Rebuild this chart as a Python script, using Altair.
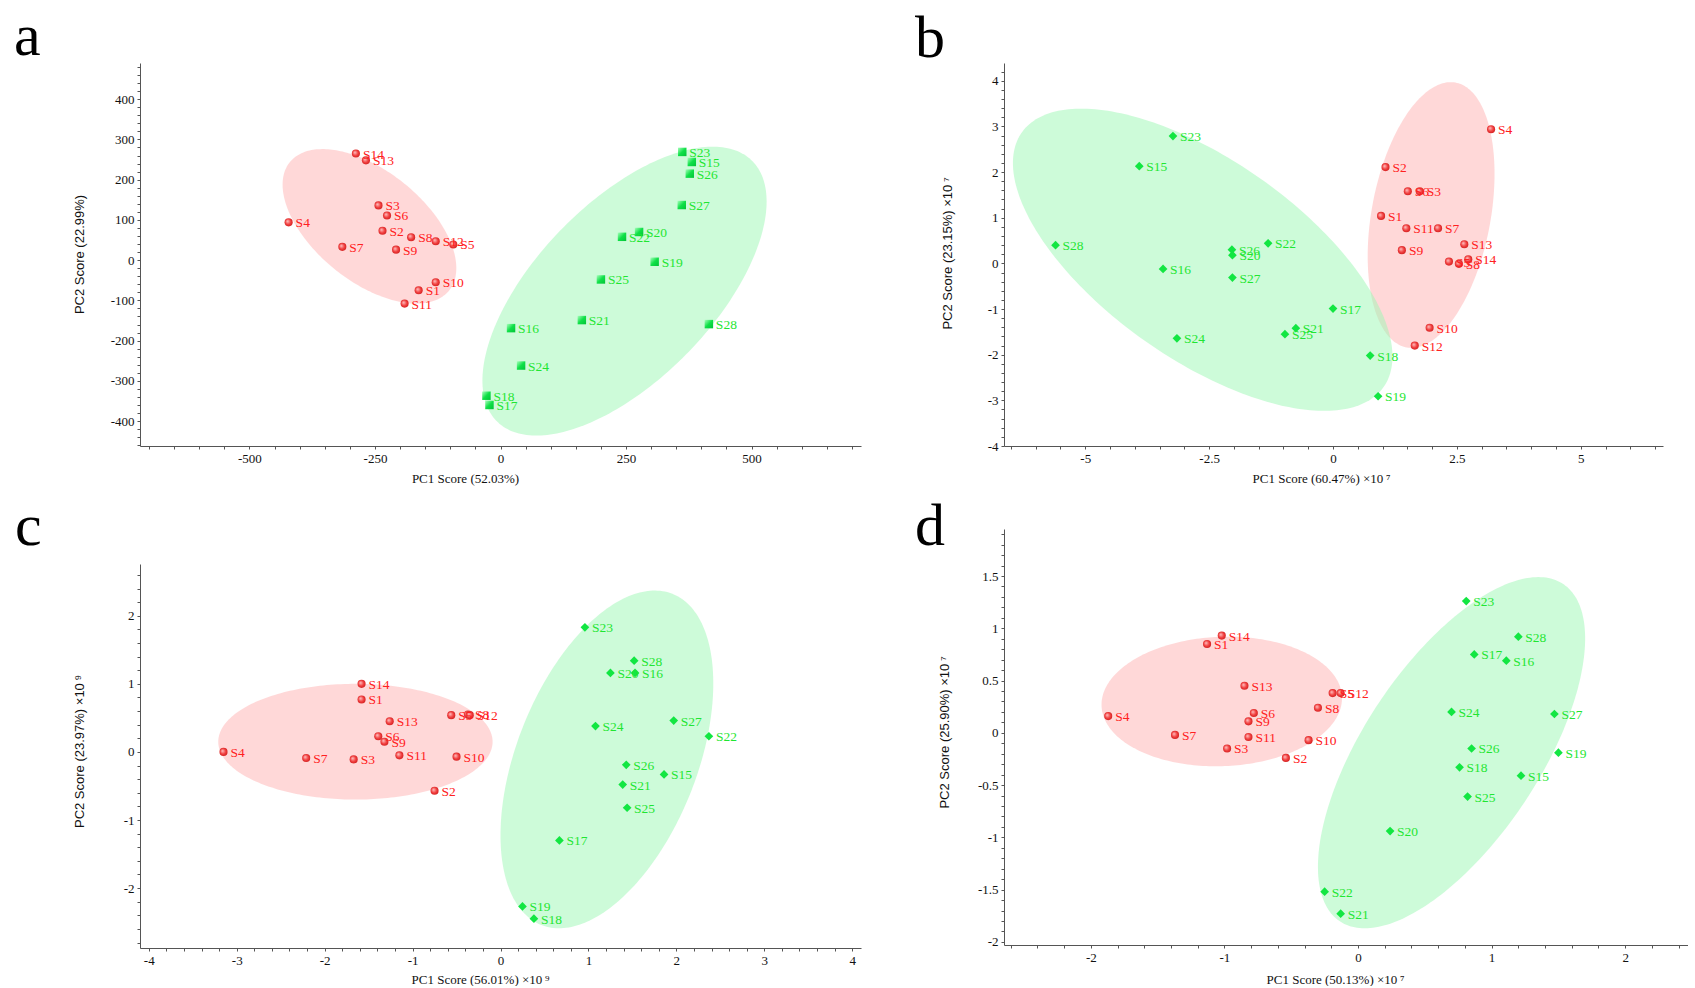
import altair as alt
import numpy as np
import pandas as pd

# ---------------- panel a ----------------
A_RED_NAMES = ["S14", "S13", "S3", "S6", "S4", "S2", "S8", "S12", "S5", "S7", "S9", "S10", "S1", "S11"]
A_RED_X = [-288, -268, -243, -226, -422, -235, -178, -129, -94, -315, -208, -129, -163, -191]
A_RED_Y = [265, 248, 136, 111, 94, 73, 57, 47, 39, 33, 26, -55, -75, -108]
A_GREEN_NAMES = ["S23", "S15", "S26", "S27", "S20", "S22", "S19", "S25", "S21", "S28", "S16", "S24", "S18", "S17"]
A_GREEN_X = [362, 381, 377, 361, 276, 242, 307, 200, 162, 415, 21, 41, -28, -22]
A_GREEN_Y = [269, 244, 215, 137, 70, 58, -4, -48, -149, -159, -169, -262, -337, -360]
# ellipse: centre x, centre y, half width, half height, tilt (y of rightmost point / half height)
A_RED_ELLIPSE = [-261, 84, 173, 192, -0.54]
A_GREEN_ELLIPSE = [247, -77, 283, 359, 0.62]

# ---------------- panel b ----------------
B_RED_NAMES = ["S4", "S2", "S6", "S3", "S1", "S11", "S7", "S13", "S9", "S5", "S8", "S14", "S10", "S12"]
B_RED_X = [3.19, 1.06, 1.51, 1.75, 0.97, 1.48, 2.12, 2.65, 1.39, 2.34, 2.54, 2.73, 1.95, 1.65]
B_RED_Y = [2.94, 2.11, 1.58, 1.58, 1.04, 0.77, 0.77, 0.42, 0.29, 0.04, -0.01, 0.09, -1.41, -1.80]
B_GREEN_NAMES = ["S23", "S15", "S28", "S22", "S26", "S20", "S16", "S27", "S17", "S21", "S25", "S24", "S18", "S19"]
B_GREEN_X = [-3.23, -3.91, -5.60, -1.31, -2.04, -2.03, -3.43, -2.03, 0.00, -0.75, -0.97, -3.15, 0.75, 0.91]
B_GREEN_Y = [2.79, 2.13, 0.40, 0.44, 0.30, 0.18, -0.12, -0.31, -0.99, -1.42, -1.55, -1.64, -2.02, -2.91]
B_RED_ELLIPSE = [1.98, 1.06, 1.28, 2.91, 0.31]
B_GREEN_ELLIPSE = [-2.63, 0.08, 3.83, 3.31, -0.64]

# ---------------- panel c ----------------
C_RED_NAMES = ["S14", "S1", "S5", "S8", "S12", "S13", "S6", "S9", "S4", "S7", "S3", "S11", "S10", "S2"]
C_RED_X = [-1.58, -1.58, -0.56, -0.37, -0.35, -1.26, -1.39, -1.32, -3.15, -2.21, -1.67, -1.15, -0.50, -0.75]
C_RED_Y = [1.00, 0.77, 0.54, 0.55, 0.54, 0.45, 0.23, 0.15, 0.00, -0.09, -0.11, -0.05, -0.07, -0.57]
C_GREEN_NAMES = ["S23", "S28", "S20", "S16", "S27", "S24", "S22", "S26", "S15", "S21", "S25", "S17", "S19", "S18"]
C_GREEN_X = [0.96, 1.52, 1.25, 1.53, 1.97, 1.08, 2.37, 1.43, 1.86, 1.39, 1.44, 0.67, 0.25, 0.38]
C_GREEN_Y = [1.83, 1.34, 1.16, 1.16, 0.46, 0.38, 0.23, -0.19, -0.33, -0.48, -0.82, -1.30, -2.27, -2.45]
C_RED_ELLIPSE = [-1.65, 0.15, 1.56, 0.85, 0.0]
C_GREEN_ELLIPSE = [1.21, -0.11, 1.21, 2.48, 0.45]

# ---------------- panel d ----------------
D_RED_NAMES = ["S14", "S1", "S13", "S5", "S12", "S8", "S6", "S9", "S4", "S7", "S11", "S10", "S3", "S2"]
D_RED_X = [-1.02, -1.13, -0.85, -0.19, -0.13, -0.30, -0.78, -0.82, -1.87, -1.37, -0.82, -0.37, -0.98, -0.54]
D_RED_Y = [0.93, 0.85, 0.45, 0.38, 0.38, 0.24, 0.19, 0.11, 0.16, -0.02, -0.04, -0.07, -0.15, -0.24]
D_GREEN_NAMES = ["S23", "S28", "S17", "S16", "S24", "S27", "S26", "S19", "S18", "S15", "S25", "S20", "S22", "S21"]
D_GREEN_X = [0.81, 1.20, 0.87, 1.11, 0.70, 1.47, 0.85, 1.50, 0.76, 1.22, 0.82, 0.24, -0.25, -0.13]
D_GREEN_Y = [1.26, 0.92, 0.75, 0.69, 0.20, 0.18, -0.15, -0.19, -0.33, -0.41, -0.61, -0.94, -1.52, -1.73]
D_RED_ELLIPSE = [-1.02, 0.30, 0.90, 0.62, 0.05]
D_GREEN_ELLIPSE = [0.70, -0.19, 1.00, 1.68, 0.65]

RED_TEXT = "#ff2020"
GREEN_TEXT = "#1fe632"
SERIF = "Liberation Serif"
SANS = "Liberation Sans"

red_grad = alt.RadialGradient(
    gradient="radial",
    stops=[alt.GradientStop(color="#ffc8c8", offset=0),
           alt.GradientStop(color="#f24040", offset=0.55),
           alt.GradientStop(color="#c81818", offset=1)],
    x1=0.35, y1=0.35, r1=0, x2=0.5, y2=0.5, r2=0.6)
green_grad = alt.LinearGradient(
    gradient="linear",
    stops=[alt.GradientStop(color="#a8ffbc", offset=0),
           alt.GradientStop(color="#10e048", offset=0.5),
           alt.GradientStop(color="#00c436", offset=1)],
    x1=0, y1=0, x2=1, y2=1)


def ellipse_df(p, n=241):
    cx, cy, w, h, k = p
    t = np.linspace(0, 2 * np.pi, n)
    phi = np.arccos(k)
    return pd.DataFrame({"x": cx + w * np.cos(t), "y": cy + h * np.cos(t - phi), "o": np.arange(n)})


def tick_values(dom, step):
    lo = np.ceil(dom[0] / step - 1e-9)
    hi = np.floor(dom[1] / step + 1e-9)
    return [round(float(i * step), 6) for i in np.arange(lo, hi + 1)]


def label_expr(s):
    return (f"abs(datum.value/{s} - round(datum.value/{s})) < 1e-6 ? '' + datum.value : ''")


def panel(letter, names_r, xr, yr, names_g, xg, yg, ell_r, ell_g, xdom, ydom,
          xstep, xlab, ystep, ylab, xtitle, ytitle, w, h, gshape, gsize, gfill,
          tdx, toff, xt_x, xt_y, yt_x, yt_y):
    xs = alt.Scale(domain=xdom, nice=False, zero=False)
    ys = alt.Scale(domain=ydom, nice=False, zero=False)
    xax = alt.Axis(values=tick_values(xdom, xstep), labelExpr=label_expr(xlab), title=xtitle,
                   titleX=xt_x, titleY=xt_y, titleAlign="center", titleBaseline="middle",
                   titleFont=SERIF, titleFontSize=13, titleFontWeight="normal")
    yax = alt.Axis(values=tick_values(ydom, ystep), labelExpr=label_expr(ylab), title=ytitle,
                   titleX=yt_x, titleY=yt_y, titleAlign="center", titleBaseline="middle",
                   titleAngle=270, titleFont=SANS, titleFontSize=13, titleFontWeight="normal")
    X = alt.X("x:Q", scale=xs, axis=xax)
    Y = alt.Y("y:Q", scale=ys, axis=yax)

    er = alt.Chart(ellipse_df(ell_r)).mark_line(
        filled=True, fill="#ffb2b2", fillOpacity=0.5, strokeWidth=0, clip=True
    ).encode(X, Y, order="o:Q")
    eg = alt.Chart(ellipse_df(ell_g)).mark_line(
        filled=True, fill="#9cf8b4", fillOpacity=0.5, strokeWidth=0, clip=True
    ).encode(X, Y, order="o:Q")

    dr = pd.DataFrame({"x": xr, "y": yr, "name": names_r})
    dg = pd.DataFrame({"x": xg, "y": yg, "name": names_g})

    pr = alt.Chart(dr).mark_point(shape="circle", filled=True, fill=red_grad, size=66,
                                  strokeWidth=0, opacity=1).encode(X, Y)
    pg = alt.Chart(dg).mark_point(shape=gshape, filled=True, fill=gfill, size=gsize,
                                  strokeWidth=0, opacity=1).encode(X, Y)
    tr = alt.Chart(dr).mark_text(align="left", baseline="middle", dx=7, dy=1, font=SERIF,
                                 fontSize=13.5, color=RED_TEXT).encode(X, Y, text="name:N")
    tg = alt.Chart(dg).mark_text(align="left", baseline="middle", dx=7, dy=1, font=SERIF,
                                 fontSize=13.5, color=GREEN_TEXT).encode(X, Y, text="name:N")

    return alt.layer(er, eg, pr, pg, tr, tg).properties(
        width=w, height=h,
        title=alt.TitleParams(text=letter, anchor="start", frame="group", font=SERIF,
                              fontSize=60, fontWeight="normal", color="black",
                              dx=tdx, offset=toff, baseline="alphabetic"))


pa = panel("a", A_RED_NAMES, A_RED_X, A_RED_Y, A_GREEN_NAMES, A_GREEN_X, A_GREEN_Y,
           A_RED_ELLIPSE, A_GREEN_ELLIPSE, [-718, 718], [-462, 490], 50, 250, 20, 100,
           "PC1 Score (52.03%)", "PC2 Score (22.99%)", 721, 383, "square", 72, green_grad,
           -126, -54, 325, 32, -61, 191)
pb = panel("b", B_RED_NAMES, B_RED_X, B_RED_Y, B_GREEN_NAMES, B_GREEN_X, B_GREEN_Y,
           B_RED_ELLIPSE, B_GREEN_ELLIPSE, [-6.64, 6.66], [-4.0, 4.39], 0.5, 2.5, 0.2, 1,
           "PC1 Score (60.47%) \u00d710\u2009\u2077", "PC2 Score (23.15%) \u00d710\u2009\u2077",
           659, 383, "diamond", 76, "#12e642", -89, -54, 317, 32, -57, 190)
pc = panel("c", C_RED_NAMES, C_RED_X, C_RED_Y, C_GREEN_NAMES, C_GREEN_X, C_GREEN_Y,
           C_RED_ELLIPSE, C_GREEN_ELLIPSE, [-4.1, 4.1], [-2.88, 2.76], 0.2, 1, 0.2, 1,
           "PC1 Score (56.01%) \u00d710\u2009\u2079", "PC2 Score (23.97%) \u00d710\u2009\u2079",
           721, 384, "diamond", 76, "#12e642", -125, -41, 340, 31, -61, 187)
pd_ = panel("d", D_RED_NAMES, D_RED_X, D_RED_Y, D_GREEN_NAMES, D_GREEN_X, D_GREEN_Y,
            D_RED_ELLIPSE, D_GREEN_ELLIPSE, [-2.65, 2.47], [-2.03, 1.95], 0.2, 1, 0.1, 0.5,
            "PC1 Score (50.13%) \u00d710\u2009\u2077", "PC2 Score (25.90%) \u00d710\u2009\u2077",
            684, 416, "diamond", 76, "#12e642", -89, -77, 331, 34, -60, 203)

chart = alt.hconcat(
    alt.vconcat(pa, pc, spacing=12),
    alt.vconcat(pb, pd_, spacing=12),
    spacing=54,
).properties(
    padding={"left": 14, "top": 7, "right": 0, "bottom": 0},
    background="white",
).configure_view(stroke=None).configure_axis(
    grid=False, domainColor="#555555", domainWidth=1, tickColor="#555555", tickSize=3,
    tickWidth=1, labelFont=SERIF, labelFontSize=13, labelColor="#111111", labelPadding=3,
    labelOverlap=False, labelFlush=False, titleColor="#111111",
)

chart.save("out.html", embed_options={"renderer": "svg", "actions": False})
